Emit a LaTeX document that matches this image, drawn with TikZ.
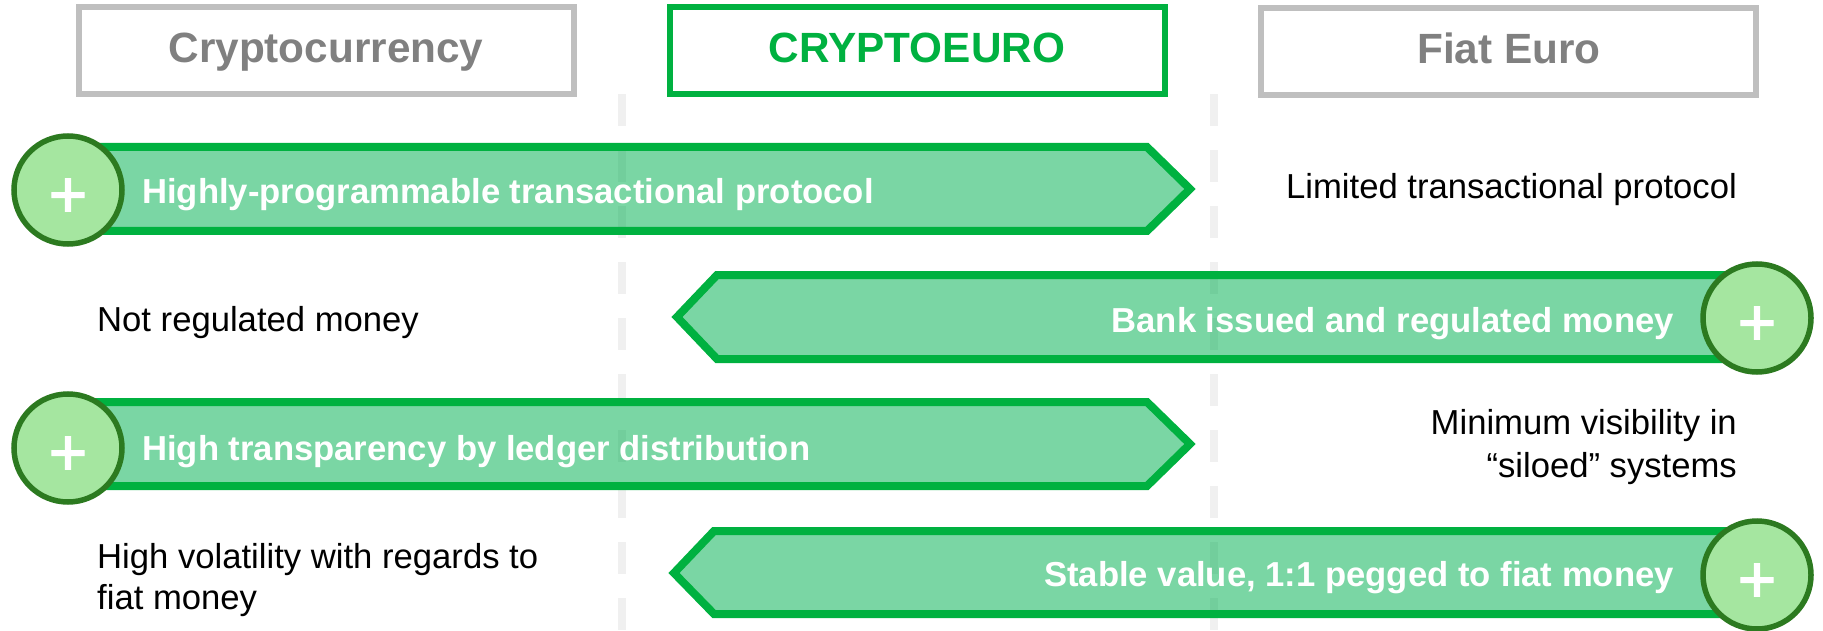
\documentclass[tikz,border=0pt]{standalone}
\usepackage{fontspec}
\setmainfont{Liberation Sans}
\newfontfamily\plusfont[FakeBold=2]{Liberation Sans}
\definecolor{gbar}{HTML}{00B050}
\definecolor{gline}{HTML}{00B140}
\definecolor{cfill}{HTML}{A5E6A0}
\definecolor{cline}{HTML}{2C7A20}
\definecolor{gbox}{HTML}{BFBFBF}
\definecolor{gtxt}{HTML}{808080}
\definecolor{gdash}{HTML}{F0F0F0}
\tikzset{
  x=1pt,y=-1pt,
  headbox/.style={draw=gbox,line width=6pt,fill=white,minimum width=495pt,minimum height=87pt,inner sep=0pt,anchor=center},
  headtext/.style={font=\fontsize{42.3pt}{42.3pt}\selectfont\bfseries,text=gtxt,inner sep=0pt,anchor=base},
  bar/.style={draw=gline,line width=8pt,fill=gbar,fill opacity=.52,draw opacity=1,miter limit=10,line join=miter},
  plusc/.style={circle,draw=cline,line width=5.5pt,fill=cfill,minimum size=108pt,inner sep=0pt,anchor=center},
  plust/.style={font=\plusfont\fontsize{66pt}{66pt}\selectfont,text=white,inner sep=0pt,anchor=base},
  bartext/.style={font=\fontsize{34.65pt}{34.65pt}\selectfont\bfseries,text=white,inner sep=0pt},
  bodytext/.style={font=\fontsize{34.65pt}{34.65pt}\selectfont,text=black,inner sep=0pt},
  dashline/.style={draw=gdash,line width=8.5pt,dash pattern=on 32pt off 24pt}
}
\begin{document}
\begin{tikzpicture}
\useasboundingbox (0,0) rectangle (1823,631);
\coordinate (d1a) at (622,94); \coordinate (d1b) at (622,631);
\coordinate (d2a) at (1214,94); \coordinate (d2b) at (1214,631);
\draw[dashline] (d1a) -- (d1b);
\draw[dashline] (d2a) -- (d2b);
\node[headbox] (b1) at (326.5,50.5) {};
\node[headbox,draw=gline] (b2) at (917,50.5) {};
\node[headbox] (b3) at (1508.5,51.5) {};
\node[headtext] (t1) at (326,63) {Cryptocurrency};
\node[headtext,text=gline] (t2) at (917,63) {CRYPTOEURO};
\node[headtext] (t3) at (1509,64) {Fiat Euro};
% bars
\draw[bar] (68,147) -- (1147,147) -- (1190,189) -- (1147,231) -- (68,231) -- cycle;
\draw[bar] (1757,275) -- (717,275) -- (677,317) -- (717,359) -- (1757,359) -- cycle;
\draw[bar] (68,402) -- (1147,402) -- (1190,444) -- (1147,486) -- (68,486) -- cycle;
\draw[bar] (1757,531) -- (714,531) -- (674,573) -- (714,614) -- (1757,614) -- cycle;
% circles
\node[plusc] (c1) at (68,190) {};
\node[plusc] (c2) at (1757,318) {};
\node[plusc] (c3) at (68,448) {};
\node[plusc] (c4) at (1757,575) {};
\node[plust] (p1) at (68,217) {+};
\node[plust] (p2) at (1757,345) {+};
\node[plust] (p3) at (68,475) {+};
\node[plust] (p4) at (1757,602) {+};
% bar text
\node[bartext,anchor=base west] (x1) at (142,204) {Highly-programmable transactional protocol};
\node[bartext,anchor=base east] (x2) at (1674,332) {Bank issued and regulated money};
\node[bartext,anchor=base west] (x3) at (142,460) {High transparency by ledger distribution};
\node[bartext,anchor=base east] (x4) at (1674,586) {Stable value, 1:1 pegged to fiat money};
% body text
\node[bodytext,anchor=base east] (y1) at (1737,199) {Limited transactional protocol};
\node[bodytext,anchor=base west] (y2) at (97,331) {Not regulated money};
\node[bodytext,anchor=base east] (y3) at (1737,434) {Minimum visibility in};
\node[bodytext,anchor=base east] (y3b) at (1737,477) {“siloed” systems};
\node[bodytext,anchor=base west] (y4) at (97,568) {High volatility with regards to};
\node[bodytext,anchor=base west] (y4b) at (97,609) {fiat money};
\end{tikzpicture}
\end{document}
